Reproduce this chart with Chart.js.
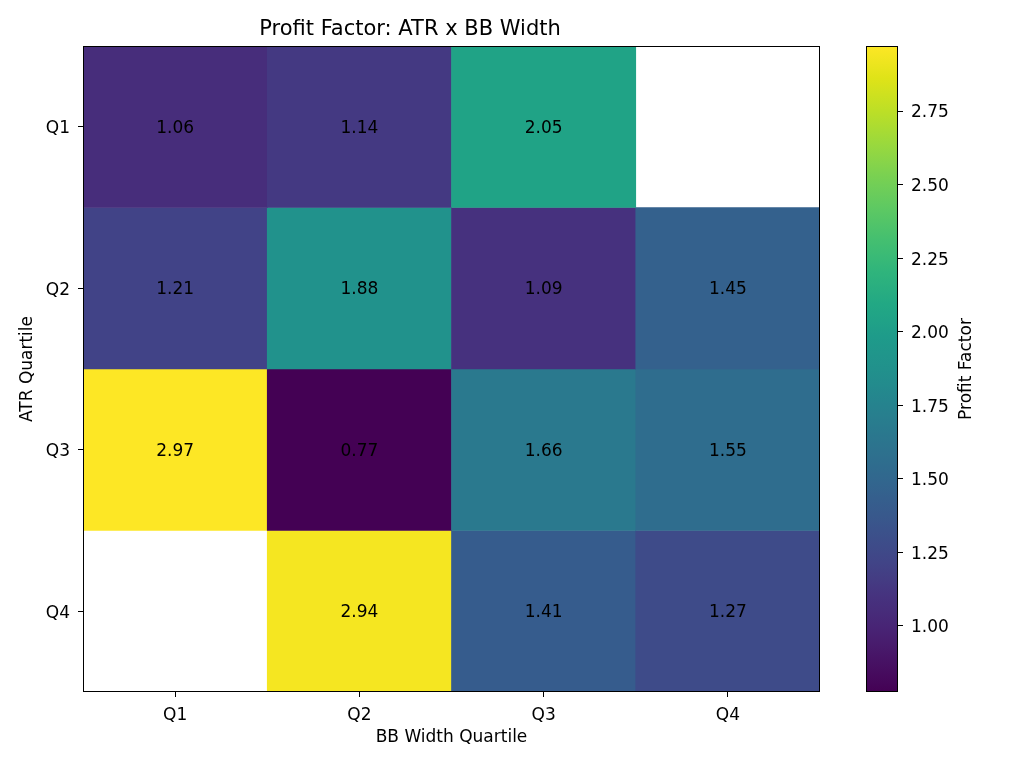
<!DOCTYPE html>
<html>
<head>
<meta charset="utf-8">
<script src="https://cdn.jsdelivr.net/npm/chart.js@4.4.1/dist/chart.umd.min.js"></script>
<style>
  body { margin: 0; background: #fff; }
  #wrap { position: relative; width: 1024px; height: 768px; }
  #main { position: absolute; left: 0; top: 0; }
  #cbar { position: absolute; left: 866px; top: 0; }
</style>
</head>
<body>
<div id="wrap">
  <canvas id="main" width="1024" height="768"></canvas>
  <canvas id="cbar" width="158" height="768"></canvas>
</div>
<script>
// Heatmap data: rows = ATR quartile, columns = BB width quartile
const bbLabels = ['Q1', 'Q2', 'Q3', 'Q4'];
const atrLabels = ['Q1', 'Q2', 'Q3', 'Q4'];
const rowQ1 = [1.06, 1.14, 2.05, null];
const rowQ2 = [1.21, 1.88, 1.09, 1.45];
const rowQ3 = [2.97, 0.77, 1.66, 1.55];
const rowQ4 = [null, 2.94, 1.41, 1.27];
const rows = [rowQ1, rowQ2, rowQ3, rowQ4];
// colour range
const vMin = 0.775;
const vMax = 2.971;
const cbTicks = [1.00, 1.25, 1.50, 1.75, 2.00, 2.25, 2.50, 2.75];

// viridis lookup, stops every 0.05
const viridis = [
  [68,1,84],[71,19,101],[72,36,117],[70,51,127],[65,68,135],[59,82,139],
  [53,95,141],[47,108,142],[42,120,142],[37,132,142],[33,145,140],[30,155,138],
  [34,168,132],[47,180,124],[68,191,112],[94,201,98],[122,209,81],[155,217,60],
  [189,223,38],[223,227,24],[253,231,37]
];
function viridisAt(t) {
  t = Math.max(0, Math.min(1, t));
  const p = t * (viridis.length - 1);
  const i = Math.min(Math.floor(p), viridis.length - 2);
  const f = p - i;
  const a = viridis[i], b = viridis[i + 1];
  const c = a.map((v, k) => Math.round(v + (b[k] - v) * f));
  return `rgb(${c[0]},${c[1]},${c[2]})`;
}
function colorFor(v) {
  return v === null ? 'rgba(0,0,0,0)' : viridisAt((v - vMin) / (vMax - vMin));
}

const FONT = 'DejaVu Sans';
const FS = 17;
Chart.defaults.font.family = FONT;
Chart.defaults.color = '#000';

// one floating-bar dataset per ATR row
const datasets = rows.map((vals, r) => ({
  label: atrLabels[r],
  data: vals.map(v => v === null ? null : [r - 0.5, r + 0.5]),
  values: vals,
  backgroundColor: vals.map(colorFor),
  borderWidth: 0,
  barPercentage: 1,
  categoryPercentage: 1,
  grouped: false
}));

// cell labels and the full axes frame
const cellLabels = {
  id: 'cellLabels',
  afterDatasetsDraw(chart) {
    const ctx = chart.ctx;
    ctx.save();
    ctx.font = FS + 'px ' + FONT;
    ctx.fillStyle = '#000';
    ctx.textAlign = 'center';
    ctx.textBaseline = 'middle';
    chart.data.datasets.forEach((ds, i) => {
      chart.getDatasetMeta(i).data.forEach((el, j) => {
        const v = ds.values[j];
        if (v === null) return;
        ctx.fillText(v.toFixed(2), el.x, (el.y + el.base) / 2 + 1.5);
      });
    });
    const a = chart.chartArea;
    ctx.strokeStyle = '#000';
    ctx.lineWidth = 1;
    ctx.strokeRect(a.left + 0.5, a.top + 0.5, a.right - a.left - 1, a.bottom - a.top - 1);
    ctx.restore();
  }
};

new Chart(document.getElementById('main'), {
  type: 'bar',
  data: { labels: bbLabels, datasets: datasets },
  options: {
    responsive: false,
    animation: false,
    layout: { padding: { left: 0, right: 204, top: 0, bottom: 20 } },
    plugins: {
      legend: { display: false },
      tooltip: { enabled: false },
      title: {
        display: true,
        text: 'Profit Factor: ATR x BB Width',
        font: { size: 21, weight: 'normal' },
        color: '#000',
        padding: { top: 17, bottom: 3.8 }
      }
    },
    scales: {
      x: {
        grid: { display: true, drawOnChartArea: false, offset: false, tickLength: 5, color: '#000' },
        border: { display: false },
        ticks: { font: { size: FS }, padding: 8, color: '#000' },
        title: { display: true, text: 'BB Width Quartile', font: { size: FS }, padding: { top: 2, bottom: 0 } },
        afterFit(scale) { scale.height = 56; }
      },
      y: {
        type: 'linear',
        min: -0.5,
        max: 3.5,
        reverse: true,
        grid: { display: true, drawOnChartArea: false, tickLength: 5, color: '#000' },
        border: { display: false },
        afterBuildTicks(scale) { scale.ticks = atrLabels.map((_, i) => ({ value: i })); },
        ticks: {
          font: { size: FS },
          padding: 8,
          labelOffset: 2,
          color: '#000',
          callback: v => atrLabels[v]
        },
        title: { display: true, text: 'ATR Quartile', font: { size: FS }, padding: { top: 17, bottom: 0 } },
        afterFit(scale) { scale.width = 83; }
      }
    }
  },
  plugins: [cellLabels]
});

// colorbar: a single floating bar from vMin to vMax with a viridis gradient
const cbFrame = {
  id: 'cbFrame',
  afterDatasetsDraw(chart) {
    const a = chart.chartArea;
    const ctx = chart.ctx;
    ctx.save();
    ctx.strokeStyle = '#000';
    ctx.lineWidth = 1;
    ctx.strokeRect(a.left + 0.5, a.top + 0.5, a.right - a.left - 1, a.bottom - a.top - 1);
    // colorbar label, reading bottom to top like matplotlib
    ctx.translate(101, (a.top + a.bottom) / 2);
    ctx.rotate(-Math.PI / 2);
    ctx.font = FS + 'px ' + FONT;
    ctx.fillStyle = '#000';
    ctx.textAlign = 'center';
    ctx.textBaseline = 'middle';
    ctx.fillText('Profit Factor', 0, 0);
    ctx.restore();
  }
};

new Chart(document.getElementById('cbar'), {
  type: 'bar',
  data: {
    labels: ['cb'],
    datasets: [{
      data: [[vMin, vMax]],
      borderWidth: 0,
      barPercentage: 1,
      categoryPercentage: 1,
      backgroundColor(context) {
        const area = context.chart.chartArea;
        if (!area) return '#888';
        const g = context.chart.ctx.createLinearGradient(0, area.bottom, 0, area.top);
        for (let k = 0; k <= 40; k++) g.addColorStop(k / 40, viridisAt(k / 40));
        return g;
      }
    }]
  },
  options: {
    responsive: false,
    animation: false,
    layout: { padding: { left: 0, right: 0, top: 46, bottom: 76 } },
    plugins: { legend: { display: false }, tooltip: { enabled: false } },
    scales: {
      x: { display: false },
      y: {
        position: 'right',
        min: vMin,
        max: vMax,
        grid: { display: true, drawOnChartArea: false, tickLength: 5, color: '#000' },
        border: { display: false },
        afterBuildTicks(scale) { scale.ticks = cbTicks.map(v => ({ value: v })); },
        ticks: { font: { size: FS }, padding: 8, labelOffset: 2, color: '#000', callback: v => v.toFixed(2) },
        afterFit(scale) { scale.width = 126; }
      }
    }
  },
  plugins: [cbFrame]
});
</script>
</body>
</html>
